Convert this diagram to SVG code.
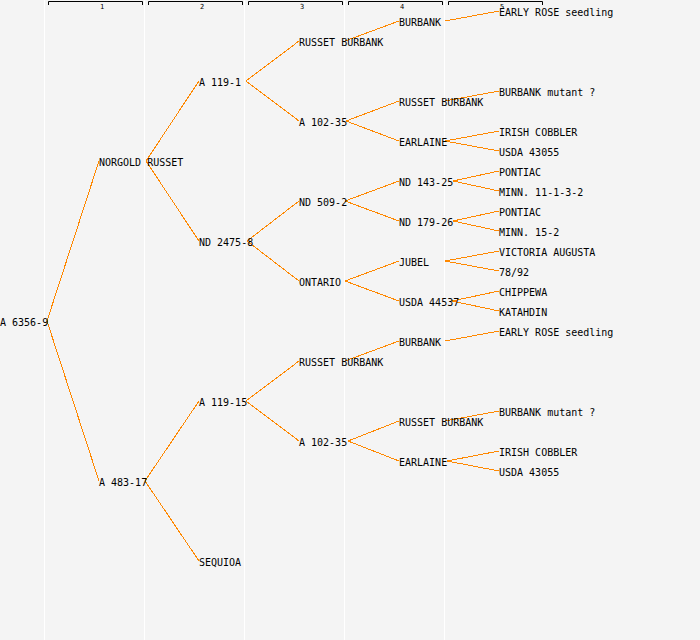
<svg xmlns="http://www.w3.org/2000/svg" width="700" height="640" viewBox="0 0 700 640">
<style>
.bg{fill:#f4f4f4}
.sep{stroke:#ffffff;stroke-width:1}
.br{fill:none;stroke:#000;stroke-width:1}
.hd{font-family:"DejaVu Sans Mono","Liberation Mono",monospace;font-size:7px;fill:#000;text-anchor:middle}
.lb{font-family:"DejaVu Sans Mono","Liberation Mono",monospace;font-size:10px;fill:#000}
.ed line{stroke:#ff8800;stroke-width:1;shape-rendering:crispEdges}
</style>
<rect class="bg" x="0" y="0" width="700" height="640"/>
<g id="columns">
<line class="sep" x1="44.5" y1="0" x2="44.5" y2="640"/>
<line class="sep" x1="144.5" y1="0" x2="144.5" y2="640"/>
<line class="sep" x1="244.5" y1="0" x2="244.5" y2="640"/>
<line class="sep" x1="344.5" y1="0" x2="344.5" y2="640"/>
<line class="sep" x1="444.5" y1="0" x2="444.5" y2="640"/>
<path class="br" d="M48.5,5V1.5H142.5V5"/>
<path class="br" d="M148.5,5V1.5H242.5V5"/>
<path class="br" d="M248.5,5V1.5H342.5V5"/>
<path class="br" d="M348.5,5V1.5H442.5V5"/>
<path class="br" d="M448.5,5V1.5H542.5V5"/>
<text class="hd" x="102" y="8.5">1</text>
<text class="hd" x="202" y="8.5">2</text>
<text class="hd" x="302" y="8.5">3</text>
<text class="hd" x="402" y="8.5">4</text>
<text class="hd" x="502" y="8.5">5</text>
</g>
<g id="connectors" class="ed">
<line x1="47" y1="321" x2="99" y2="161"/>
<line x1="47" y1="321" x2="99" y2="481"/>
<line x1="146" y1="161" x2="199" y2="81"/>
<line x1="146" y1="161" x2="199" y2="241"/>
<line x1="145" y1="481" x2="199" y2="401"/>
<line x1="145" y1="481" x2="199" y2="561"/>
<line x1="246" y1="81" x2="299" y2="41"/>
<line x1="246" y1="81" x2="299" y2="121"/>
<line x1="247" y1="241" x2="299" y2="201"/>
<line x1="247" y1="241" x2="299" y2="281"/>
<line x1="246" y1="401" x2="299" y2="361"/>
<line x1="246" y1="401" x2="299" y2="441"/>
<line x1="345" y1="41" x2="399" y2="21"/>
<line x1="346" y1="121" x2="399" y2="101"/>
<line x1="346" y1="121" x2="399" y2="141"/>
<line x1="345" y1="201" x2="399" y2="181"/>
<line x1="345" y1="201" x2="399" y2="221"/>
<line x1="345" y1="281" x2="399" y2="261"/>
<line x1="345" y1="281" x2="399" y2="301"/>
<line x1="345" y1="361" x2="399" y2="341"/>
<line x1="348" y1="441" x2="399" y2="421"/>
<line x1="348" y1="441" x2="399" y2="461"/>
<line x1="445" y1="21" x2="499" y2="11"/>
<line x1="445" y1="101" x2="499" y2="91"/>
<line x1="445" y1="141" x2="499" y2="131"/>
<line x1="445" y1="141" x2="499" y2="151"/>
<line x1="453" y1="181" x2="499" y2="171"/>
<line x1="453" y1="181" x2="499" y2="191"/>
<line x1="453" y1="221" x2="499" y2="211"/>
<line x1="453" y1="221" x2="499" y2="231"/>
<line x1="445" y1="261" x2="499" y2="251"/>
<line x1="445" y1="261" x2="499" y2="271"/>
<line x1="452" y1="301" x2="499" y2="291"/>
<line x1="452" y1="301" x2="499" y2="311"/>
<line x1="445" y1="341" x2="499" y2="331"/>
<line x1="445" y1="421" x2="499" y2="411"/>
<line x1="447" y1="461" x2="499" y2="451"/>
<line x1="447" y1="461" x2="499" y2="471"/>
</g>
<g id="n0"><text class="lb" x="0" y="326">A 6356-9</text></g>
<g id="n1"><text class="lb" x="99" y="166">NORGOLD RUSSET</text></g>
<g id="n2"><text class="lb" x="99" y="486">A 483-17</text></g>
<g id="n3"><text class="lb" x="199" y="86">A 119-1</text></g>
<g id="n4"><text class="lb" x="199" y="246">ND 2475-8</text></g>
<g id="n5"><text class="lb" x="199" y="406">A 119-15</text></g>
<g id="n6"><text class="lb" x="199" y="566">SEQUIOA</text></g>
<g id="n7"><text class="lb" x="299" y="46">RUSSET BURBANK</text></g>
<g id="n8"><text class="lb" x="299" y="126">A 102-35</text></g>
<g id="n9"><text class="lb" x="299" y="206">ND 509-2</text></g>
<g id="n10"><text class="lb" x="299" y="286">ONTARIO</text></g>
<g id="n11"><text class="lb" x="299" y="366">RUSSET BURBANK</text></g>
<g id="n12"><text class="lb" x="299" y="446">A 102-35</text></g>
<g id="n13"><text class="lb" x="399" y="26">BURBANK</text></g>
<g id="n14"><text class="lb" x="399" y="106">RUSSET BURBANK</text></g>
<g id="n15"><text class="lb" x="399" y="146">EARLAINE</text></g>
<g id="n16"><text class="lb" x="399" y="186">ND 143-25</text></g>
<g id="n17"><text class="lb" x="399" y="226">ND 179-26</text></g>
<g id="n18"><text class="lb" x="399" y="266">JUBEL</text></g>
<g id="n19"><text class="lb" x="399" y="306">USDA 44537</text></g>
<g id="n20"><text class="lb" x="399" y="346">BURBANK</text></g>
<g id="n21"><text class="lb" x="399" y="426">RUSSET BURBANK</text></g>
<g id="n22"><text class="lb" x="399" y="466">EARLAINE</text></g>
<g id="n23"><text class="lb" x="499" y="16">EARLY ROSE seedling</text></g>
<g id="n24"><text class="lb" x="499" y="96">BURBANK mutant ?</text></g>
<g id="n25"><text class="lb" x="499" y="136">IRISH COBBLER</text></g>
<g id="n26"><text class="lb" x="499" y="156">USDA 43055</text></g>
<g id="n27"><text class="lb" x="499" y="176">PONTIAC</text></g>
<g id="n28"><text class="lb" x="499" y="196">MINN. 11-1-3-2</text></g>
<g id="n29"><text class="lb" x="499" y="216">PONTIAC</text></g>
<g id="n30"><text class="lb" x="499" y="236">MINN. 15-2</text></g>
<g id="n31"><text class="lb" x="499" y="256">VICTORIA AUGUSTA</text></g>
<g id="n32"><text class="lb" x="499" y="276">78/92</text></g>
<g id="n33"><text class="lb" x="499" y="296">CHIPPEWA</text></g>
<g id="n34"><text class="lb" x="499" y="316">KATAHDIN</text></g>
<g id="n35"><text class="lb" x="499" y="336">EARLY ROSE seedling</text></g>
<g id="n36"><text class="lb" x="499" y="416">BURBANK mutant ?</text></g>
<g id="n37"><text class="lb" x="499" y="456">IRISH COBBLER</text></g>
<g id="n38"><text class="lb" x="499" y="476">USDA 43055</text></g>
</svg>
